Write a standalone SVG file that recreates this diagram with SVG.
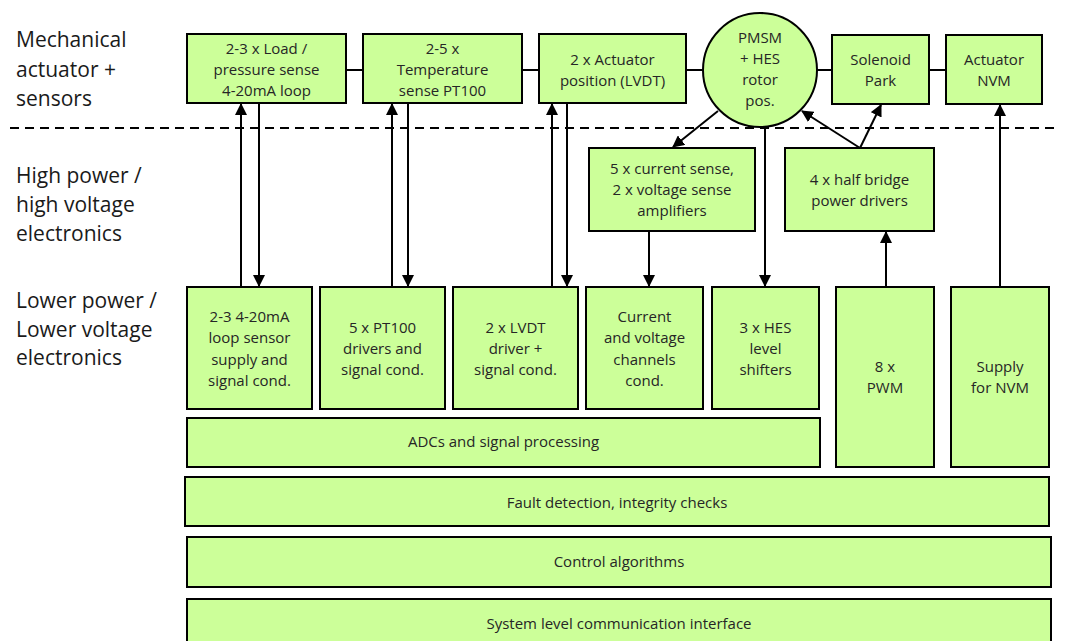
<svg xmlns="http://www.w3.org/2000/svg" width="1067" height="641" viewBox="0 0 1067 641">
<defs>
<marker id="ah" markerUnits="userSpaceOnUse" markerWidth="12" markerHeight="12" viewBox="0 0 12 12" refX="11" refY="6" orient="auto">
<path d="M0,0 L12,6 L0,12 Z" fill="#000"/>
</marker>
<style>
.box{fill:#ccff99;stroke:#000;stroke-width:2}
.t{font-family:"Open Sans","Liberation Sans",sans-serif;font-size:15px;fill:#262626;text-anchor:middle}
.lab{font-family:"Open Sans","Liberation Sans",sans-serif;font-size:21px;fill:#1a1a1a}
.ln{stroke:#000;stroke-width:2;fill:none}
.ar{stroke:#000;stroke-width:2;fill:none;marker-end:url(#ah)}
</style>
</defs>
<rect width="1067" height="641" fill="#fff"/>
<g id="labels">
<text class="lab" x="16" y="47">Mechanical</text>
<text class="lab" x="16" y="77">actuator +</text>
<text class="lab" x="16" y="106">sensors</text>
<text class="lab" x="16" y="183">High power /</text>
<text class="lab" x="16" y="212">high voltage</text>
<text class="lab" x="16" y="241">electronics</text>
<text class="lab" x="16" y="308">Lower power /</text>
<text class="lab" x="16" y="337">Lower voltage</text>
<text class="lab" x="16" y="365">electronics</text>
</g>
<line x1="10" y1="128" x2="1060" y2="128" stroke="#000" stroke-width="2" stroke-dasharray="9,6"/>
<g id="connectors">
<line class="ln" x1="346" y1="70" x2="363" y2="70"/>
<line class="ln" x1="522" y1="70" x2="539" y2="70"/>
<line class="ln" x1="686" y1="70" x2="703" y2="70"/>
<line class="ln" x1="817" y1="70" x2="832" y2="70"/>
<line class="ln" x1="929" y1="70" x2="946" y2="70"/>
<line class="ar" x1="241" y1="287" x2="241" y2="104"/>
<line class="ar" x1="259" y1="103" x2="259" y2="286"/>
<line class="ar" x1="392" y1="287" x2="392" y2="104"/>
<line class="ar" x1="408" y1="103" x2="408" y2="286"/>
<line class="ar" x1="552" y1="287" x2="552" y2="104"/>
<line class="ar" x1="567" y1="103" x2="567" y2="286"/>
<line class="ar" x1="649" y1="231" x2="649" y2="286"/>
<line class="ar" x1="765" y1="127" x2="765" y2="286"/>
<line class="ar" x1="886" y1="287" x2="886" y2="232"/>
<line class="ar" x1="1000" y1="287" x2="1000" y2="105"/>
<line class="ar" x1="718" y1="111" x2="673" y2="147"/>
<line class="ar" x1="860" y1="148" x2="802" y2="111"/>
<line class="ar" x1="860" y1="148" x2="881" y2="105"/>
</g>
<g id="n-load"><rect class="box" x="187" y="34" width="159" height="69"/><text class="t"><tspan x="266.5" y="54">2-3 x Load /</tspan><tspan x="266.5" y="75">pressure sense</tspan><tspan x="266.5" y="96">4-20mA loop</tspan></text></g>
<g id="n-temp"><rect class="box" x="363" y="34" width="159" height="69"/><text class="t"><tspan x="442.5" y="54">2-5 x</tspan><tspan x="442.5" y="75">Temperature</tspan><tspan x="442.5" y="96">sense PT100</tspan></text></g>
<g id="n-pos"><rect class="box" x="539" y="34" width="147" height="69"/><text class="t"><tspan x="612.5" y="65">2 x Actuator</tspan><tspan x="612.5" y="86">position (LVDT)</tspan></text></g>
<g id="n-pmsm"><circle class="box" cx="760" cy="70" r="57"/><text class="t"><tspan x="760" y="43">PMSM</tspan><tspan x="760" y="64">+ HES</tspan><tspan x="760" y="85">rotor</tspan><tspan x="760" y="106">pos.</tspan></text></g>
<g id="n-sol"><rect class="box" x="832" y="35" width="97" height="69"/><text class="t"><tspan x="880.5" y="65">Solenoid</tspan><tspan x="880.5" y="86">Park</tspan></text></g>
<g id="n-nvm"><rect class="box" x="946" y="35" width="96" height="69"/><text class="t"><tspan x="994" y="65">Actuator</tspan><tspan x="994" y="86">NVM</tspan></text></g>
<g id="n-amp"><rect class="box" x="589" y="148" width="166" height="83"/><text class="t"><tspan x="672" y="174">5 x current sense,</tspan><tspan x="672" y="195">2 x voltage sense</tspan><tspan x="672" y="216">amplifiers</tspan></text></g>
<g id="n-hb"><rect class="box" x="785" y="148" width="149" height="83"/><text class="t"><tspan x="859.5" y="185">4 x half bridge</tspan><tspan x="859.5" y="206">power drivers</tspan></text></g>
<g id="n-loop"><rect class="box" x="187" y="287" width="125" height="122"/><text class="t"><tspan x="249.5" y="322">2-3 4-20mA</tspan><tspan x="249.5" y="343">loop sensor</tspan><tspan x="249.5" y="365">supply and</tspan><tspan x="249.5" y="386">signal cond.</tspan></text></g>
<g id="n-pt100"><rect class="box" x="320" y="287" width="125" height="122"/><text class="t"><tspan x="382.5" y="333">5 x PT100</tspan><tspan x="382.5" y="354">drivers and</tspan><tspan x="382.5" y="375">signal cond.</tspan></text></g>
<g id="n-lvdt"><rect class="box" x="453" y="287" width="125" height="122"/><text class="t"><tspan x="515.5" y="333">2 x LVDT</tspan><tspan x="515.5" y="354">driver +</tspan><tspan x="515.5" y="375">signal cond.</tspan></text></g>
<g id="n-cv"><rect class="box" x="586" y="287" width="117" height="122"/><text class="t"><tspan x="644.5" y="322">Current</tspan><tspan x="644.5" y="343">and voltage</tspan><tspan x="644.5" y="365">channels</tspan><tspan x="644.5" y="386">cond.</tspan></text></g>
<g id="n-hes"><rect class="box" x="712" y="287" width="107" height="122"/><text class="t"><tspan x="765.5" y="333">3 x HES</tspan><tspan x="765.5" y="354">level</tspan><tspan x="765.5" y="375">shifters</tspan></text></g>
<g id="n-pwm"><rect class="box" x="836" y="287" width="98" height="180"/><text class="t"><tspan x="885" y="372">8 x</tspan><tspan x="885" y="393">PWM</tspan></text></g>
<g id="n-supply"><rect class="box" x="951" y="287" width="98" height="180"/><text class="t"><tspan x="1000" y="372">Supply</tspan><tspan x="1000" y="393">for NVM</tspan></text></g>
<g id="n-adc"><rect class="box" x="187" y="418" width="633" height="49"/><text class="t" x="503.5" y="447">ADCs and signal processing</text></g>
<g id="n-fault"><rect class="box" x="185" y="477" width="864" height="49"/><text class="t" x="617" y="508">Fault detection, integrity checks</text></g>
<g id="n-ctrl"><rect class="box" x="187" y="537" width="864" height="50"/><text class="t" x="619" y="567">Control algorithms</text></g>
<g id="n-sys"><rect class="box" x="187" y="599" width="864" height="50"/><text class="t" x="619" y="629">System level communication interface</text></g>
</svg>
